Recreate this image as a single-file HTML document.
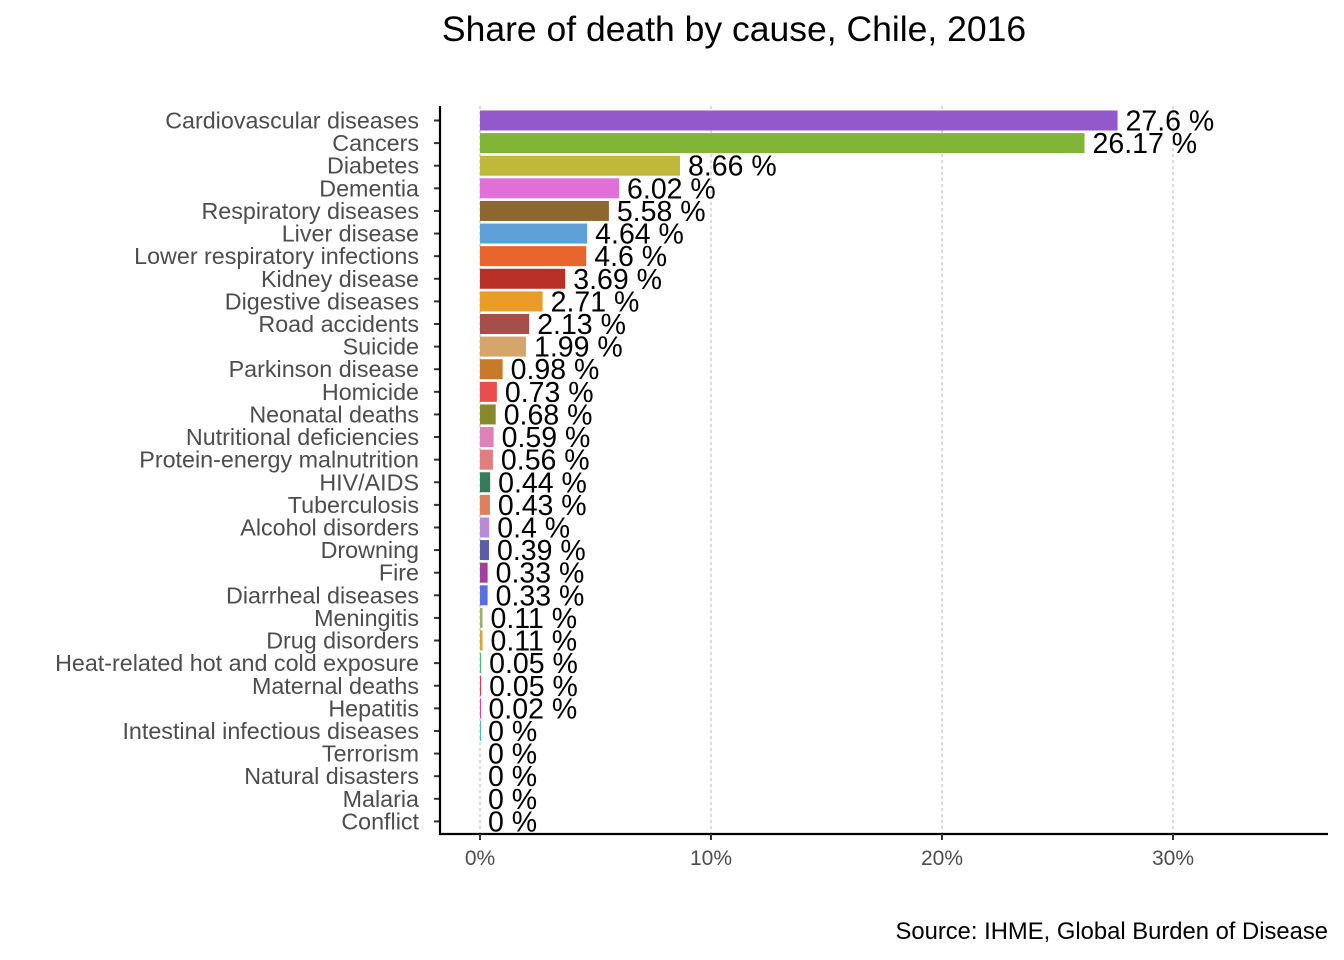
<!DOCTYPE html>
<html><head><meta charset="utf-8"><style>
html,body{margin:0;padding:0;background:#fff;}
svg{display:block;font-family:"Liberation Sans",Arial,sans-serif;}
</style></head><body>
<svg id="s" width="1344" height="960" xmlns="http://www.w3.org/2000/svg">
<rect width="1344" height="960" fill="#fff"/>
<text x="734" y="41" font-size="35.5" text-anchor="middle" fill="#000">Share of death by cause, Chile, 2016</text>
<g stroke="#c8c8c8" stroke-width="1.3" stroke-dasharray="3,3">
<line x1="480" y1="106" x2="480" y2="834"/>
<line x1="711" y1="106" x2="711" y2="834"/>
<line x1="942" y1="106" x2="942" y2="834"/>
<line x1="1173" y1="106" x2="1173" y2="834"/>
</g>
<g id="bars"></g>
<line x1="440" y1="106" x2="440" y2="835" stroke="#000" stroke-width="2.2"/>
<line x1="439" y1="834" x2="1328" y2="834" stroke="#000" stroke-width="2.2"/>
<g stroke="#333" stroke-width="2">
<line x1="480" y1="834" x2="480" y2="840"/><line x1="711" y1="834" x2="711" y2="840"/>
<line x1="942" y1="834" x2="942" y2="840"/><line x1="1173" y1="834" x2="1173" y2="840"/>
</g>
<g font-size="21" fill="#4d4d4d" text-anchor="middle">
<text x="480" y="865">0%</text><text x="711" y="865">10%</text><text x="942" y="865">20%</text><text x="1173" y="865">30%</text>
</g>
<text x="1328" y="939" font-size="23.8" text-anchor="end" fill="#000">Source: IHME, Global Burden of Disease</text>
</svg>
<script>
var d=[["Cardiovascular diseases",27.6,"#9358c9"],["Cancers",26.17,"#80b436"],["Diabetes",8.66,"#bfb83a"],["Dementia",6.02,"#e070d8"],["Respiratory diseases",5.58,"#8e6630"],["Liver disease",4.64,"#5fa0d8"],["Lower respiratory infections",4.6,"#e8662d"],["Kidney disease",3.69,"#b83025"],["Digestive diseases",2.71,"#eb9c28"],["Road accidents",2.13,"#a64e4a"],["Suicide",1.99,"#d6a56c"],["Parkinson disease",0.98,"#c87a2a"],["Homicide",0.73,"#e84c4c"],["Neonatal deaths",0.68,"#878a2a"],["Nutritional deficiencies",0.59,"#df82b8"],["Protein-energy malnutrition",0.56,"#e07e80"],["HIV/AIDS",0.44,"#357c5a"],["Tuberculosis",0.43,"#e07f5e"],["Alcohol disorders",0.4,"#b98ad8"],["Drowning",0.39,"#5c5ea5"],["Fire",0.33,"#a23f9f"],["Diarrheal diseases",0.33,"#5a6fe0"],["Meningitis",0.11,"#9cb06a"],["Drug disorders",0.11,"#d6a53a"],["Heat-related hot and cold exposure",0.05,"#4cb880"],["Maternal deaths",0.05,"#d63a5c"],["Hepatitis",0.02,"#e83aa0"],["Intestinal infectious diseases",0.004,"#40c0c0"],["Terrorism",0,"#999"],["Natural disasters",0,"#999"],["Malaria",0,"#999"],["Conflict",0,"#999"]];
var h="";
for(var i=0;i<d.length;i++){
 var r=d[i],c=120.5+i*22.61,w=r[1]*23.1;
 if(w>0){if(w<1)w=1;h+='<rect x="480" y="'+(c-10)+'" width="'+w+'" height="20" fill="'+r[2]+'"/>';}
 h+='<line x1="434" y1="'+c+'" x2="440" y2="'+c+'" stroke="#333" stroke-width="2"/>';
 h+='<text x="419" y="'+(c+8)+'" font-size="23.3" text-anchor="end" fill="#4d4d4d">'+r[0]+'</text>';
 var v=r[1]<0.01?"0":String(r[1]);
 h+='<text x="'+(480+r[1]*23.1+8)+'" y="'+(c+10)+'" font-size="28.5" fill="#000">'+v+' %</text>';
}
document.getElementById("bars").innerHTML=h;
</script>
</body></html>
